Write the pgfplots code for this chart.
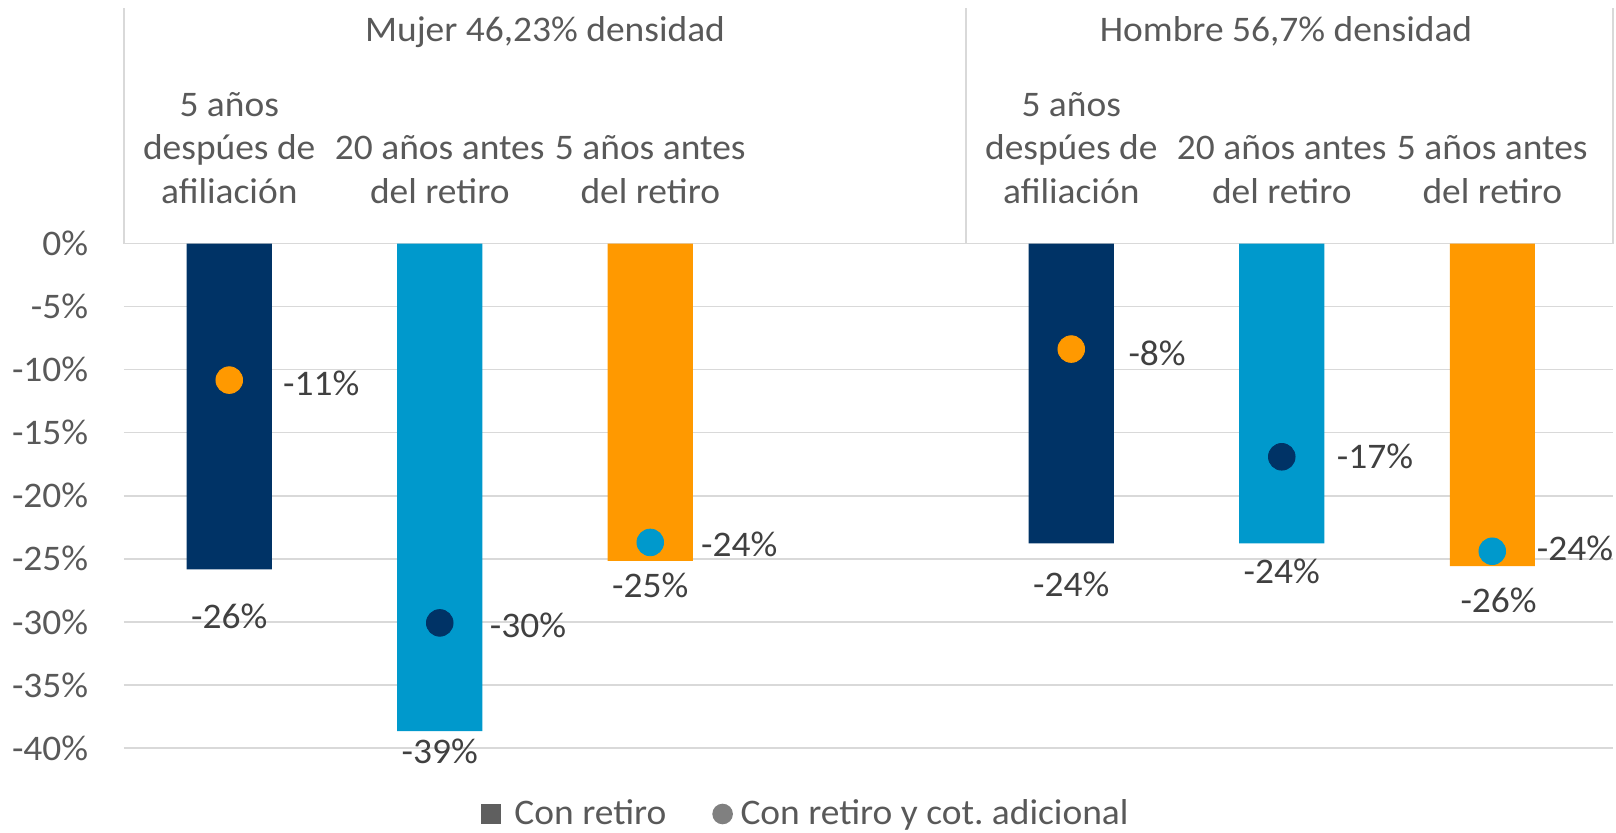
\documentclass[border=0pt]{standalone}
\usepackage{pgfplots}
\pgfplotsset{compat=1.18}
\usepackage{fontspec}
\setmainfont{Carlito}[FakeStretch=1.04]
\definecolor{navyc}{HTML}{003366}
\definecolor{bluec}{HTML}{0099CC}
\definecolor{orangec}{HTML}{FF9900}
\definecolor{gridgray}{HTML}{D9D9D9}
\definecolor{txtgray}{HTML}{595959}
\definecolor{labgray}{HTML}{404040}
\definecolor{legsq}{HTML}{5F5F5F}
\definecolor{legci}{HTML}{808080}
\newcommand\f{\fontsize{18pt}{21.65pt}\selectfont}
\frenchspacing
\tikzset{
  hdr/.style={font=\f, text=txtgray, anchor=base, inner sep=0pt},
  lab/.style={font=\f, text=labgray, inner sep=0pt},
}
\begin{document}
\begin{tikzpicture}
\begin{axis}[
  scale only axis, width=744.5pt, height=252.25pt,
  xmin=-0.5, xmax=6.5736, ymin=-40, ymax=0,
  clip=false,
  axis line style={draw=none},
  major tick length=0pt,
  xtick=\empty,
  ytick={-40,-35,...,0},
  yticklabels={-40\%,-35\%,-30\%,-25\%,-20\%,-15\%,-10\%,-5\%,0\%},
  ymajorgrids, grid style={color=gridgray, line width=0.75pt},
  yticklabel style={font=\f, text=txtgray, anchor=east, inner sep=0pt, xshift=-17.7pt},
  legend style={at={(0.4585,-0.1308)}, anchor=center, draw=none, fill=none,
    font=\f, text=txtgray, legend columns=2, inner sep=0pt,
    /tikz/every even column/.append style={column sep=21pt}},
  legend cell align=left,
]
% bars (Con retiro)
\addplot[ybar, bar width=0.404, bar shift=0pt, fill=navyc, draw=none, forget plot] coordinates {(0,-25.83) (4,-23.78)};
\addplot[ybar, bar width=0.404, bar shift=0pt, fill=bluec, draw=none, forget plot] coordinates {(1,-38.67) (5,-23.78)};
\addplot[ybar, bar width=0.404, bar shift=0pt, fill=orangec, draw=none, forget plot] coordinates {(2,-25.17) (6,-25.57)};
% dots (Con retiro y cot. adicional)
\addplot[only marks, mark=*, mark size=6.67pt, color=orangec, mark options={draw=none}, forget plot] coordinates {(0,-10.83) (4,-8.37)};
\addplot[only marks, mark=*, mark size=6.67pt, color=navyc, mark options={draw=none}, forget plot] coordinates {(1,-30.08) (5,-16.91)};
\addplot[only marks, mark=*, mark size=6.67pt, color=bluec, mark options={draw=none}, forget plot] coordinates {(2,-23.7) (6,-24.4)};
% legend
\addlegendimage{legend image code/.code={\fill[legsq, draw=none] (0pt,-5.15pt) rectangle (10.3pt,5.15pt); \path[draw=none, fill=none] (0pt,0pt) rectangle (14.8pt,0.1pt);}}
\addlegendentry{Con retiro}
\addlegendimage{legend image code/.code={\fill[legci, draw=none] (5.15pt,0pt) circle (5.15pt); \path[draw=none, fill=none] (0pt,0pt) rectangle (12.1pt,0.1pt);}}
\addlegendentry{Con retiro y cot. adicional}
% header frame
\draw[gridgray, line width=0.75pt] (axis cs:-0.5,0) -- (axis cs:-0.5,18.69);
\draw[gridgray, line width=0.75pt] (axis cs:3.5,0) -- (axis cs:3.5,18.69);
\draw[gridgray, line width=0.75pt] (axis cs:6.5736,0) -- (axis cs:6.5736,18.69);
% header texts
\node[hdr] at (axis cs:1.5,16.0) {Mujer 46,23\% densidad};
\node[hdr] at (axis cs:5.02,16.0) {Hombre 56,7\% densidad};
\node[hdr] at (axis cs:0,10.09) {5 años};
\node[hdr] at (axis cs:0,6.65) {despúes de};
\node[hdr] at (axis cs:0,3.21) {afiliación};
\node[hdr] at (axis cs:4,10.09) {5 años};
\node[hdr] at (axis cs:4,6.65) {despúes de};
\node[hdr] at (axis cs:4,3.21) {afiliación};
\node[hdr] at (axis cs:1,6.65) {20 años antes};
\node[hdr] at (axis cs:1,3.21) {del retiro};
\node[hdr] at (axis cs:5,6.65) {20 años antes};
\node[hdr] at (axis cs:5,3.21) {del retiro};
\node[hdr] at (axis cs:2,6.65) {5 años antes};
\node[hdr] at (axis cs:2,3.21) {del retiro};
\node[hdr] at (axis cs:6,6.65) {5 años antes};
\node[hdr] at (axis cs:6,3.21) {del retiro};
% bar value labels
\node[lab] at (axis cs:0,-29.6) {-26\%};
\node[lab] at (axis cs:1,-40.30) {-39\%};
\node[lab] at (axis cs:2,-27.13) {-25\%};
\node[lab] at (axis cs:4,-27.05) {-24\%};
\node[lab] at (axis cs:5,-25.99) {-24\%};
\node[lab] at (axis cs:6.03,-28.27) {-26\%};
% dot value labels
\node[lab, anchor=west] at (axis cs:0.254,-11.07) {-11\%};
\node[lab, anchor=west] at (axis cs:1.236,-30.24) {-30\%};
\node[lab, anchor=west] at (axis cs:2.24,-23.87) {-24\%};
\node[lab, anchor=west] at (axis cs:4.27,-8.69) {-8\%};
\node[lab, anchor=west] at (axis cs:5.26,-16.91) {-17\%};
\node[lab, anchor=west] at (axis cs:6.21,-24.17) {-24\%};
\end{axis}
\pgfresetboundingbox
\path[use as bounding box] (-62pt,-42pt) rectangle (746pt,374pt);
\end{tikzpicture}
\end{document}
